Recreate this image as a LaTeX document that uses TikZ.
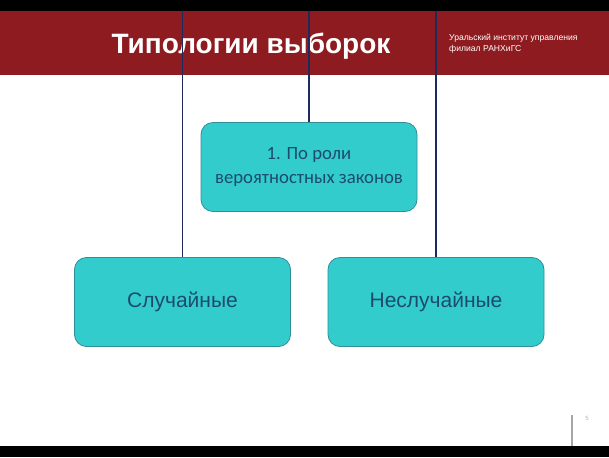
\documentclass[tikz,border=0pt]{standalone}
\usepackage{fontspec}
\setmainfont{Liberation Sans}
\newfontfamily\carl{Carlito}
\definecolor{hdrred}{HTML}{8E1B1F}
\definecolor{boxfill}{HTML}{33CCCC}
\definecolor{boxedge}{HTML}{2E8E99}
\definecolor{boxtext}{HTML}{1B4C6C}
\definecolor{linknavy}{HTML}{1E2A5E}
\tikzset{
  typbox/.style={draw=boxedge, line width=0.8pt, fill=boxfill, rounded corners=12pt,
    minimum width=216pt, minimum height=89pt, inner sep=0pt, align=center, text=boxtext},
  link/.style={draw=linknavy, line width=1.3pt}
}
\begin{document}
\begin{tikzpicture}[x=1pt,y=-1pt]
\useasboundingbox (0,0) rectangle (609,457);
\fill[white] (0,0) rectangle (609,457);
\fill[black] (0,0) rectangle (609,11);
\fill[hdrred] (0,11) rectangle (609,75);
\fill[black] (0,446) rectangle (609,457);
\node[text=white, font=\bfseries\fontsize{28}{32}\selectfont, anchor=center] (title) at (251,46) {Типологии выборок};
\node[text=white, font=\fontsize{8.6}{10.5}\selectfont, align=left, anchor=west, inner sep=0pt] (inst) at (449,43.5) {Уральский институт управления\\филиал РАНХиГС};
\node[typbox, font=\carl\fontsize{18.7}{23.5}\selectfont] (root) at (309,167) {\raisebox{-4pt}{\begin{tabular}{@{}c@{}}1. По роли\\[1pt]вероятностных законов\end{tabular}}};
\node[typbox, font=\fontsize{21}{25}\selectfont] (rand) at (182.5,302) {\raisebox{-2pt}{Случайные}};
\node[typbox, font=\fontsize{21}{25}\selectfont] (nonrand) at (436,302) {\raisebox{-2pt}{Неслучайные}};
\coordinate (ta) at (182.5,11);
\coordinate (tb) at (309,11);
\coordinate (tc) at (436,11);
\draw[link] (ta) -- (rand.north);
\draw[link] (tb) -- (root.north);
\draw[link] (tc) -- (nonrand.north);
\draw[gray!70, line width=1.5pt] (572,415) -- (572,446);
\node[text=gray!60, font=\fontsize{6}{7}\selectfont] (pg) at (587,418) {5};
\end{tikzpicture}
\end{document}
